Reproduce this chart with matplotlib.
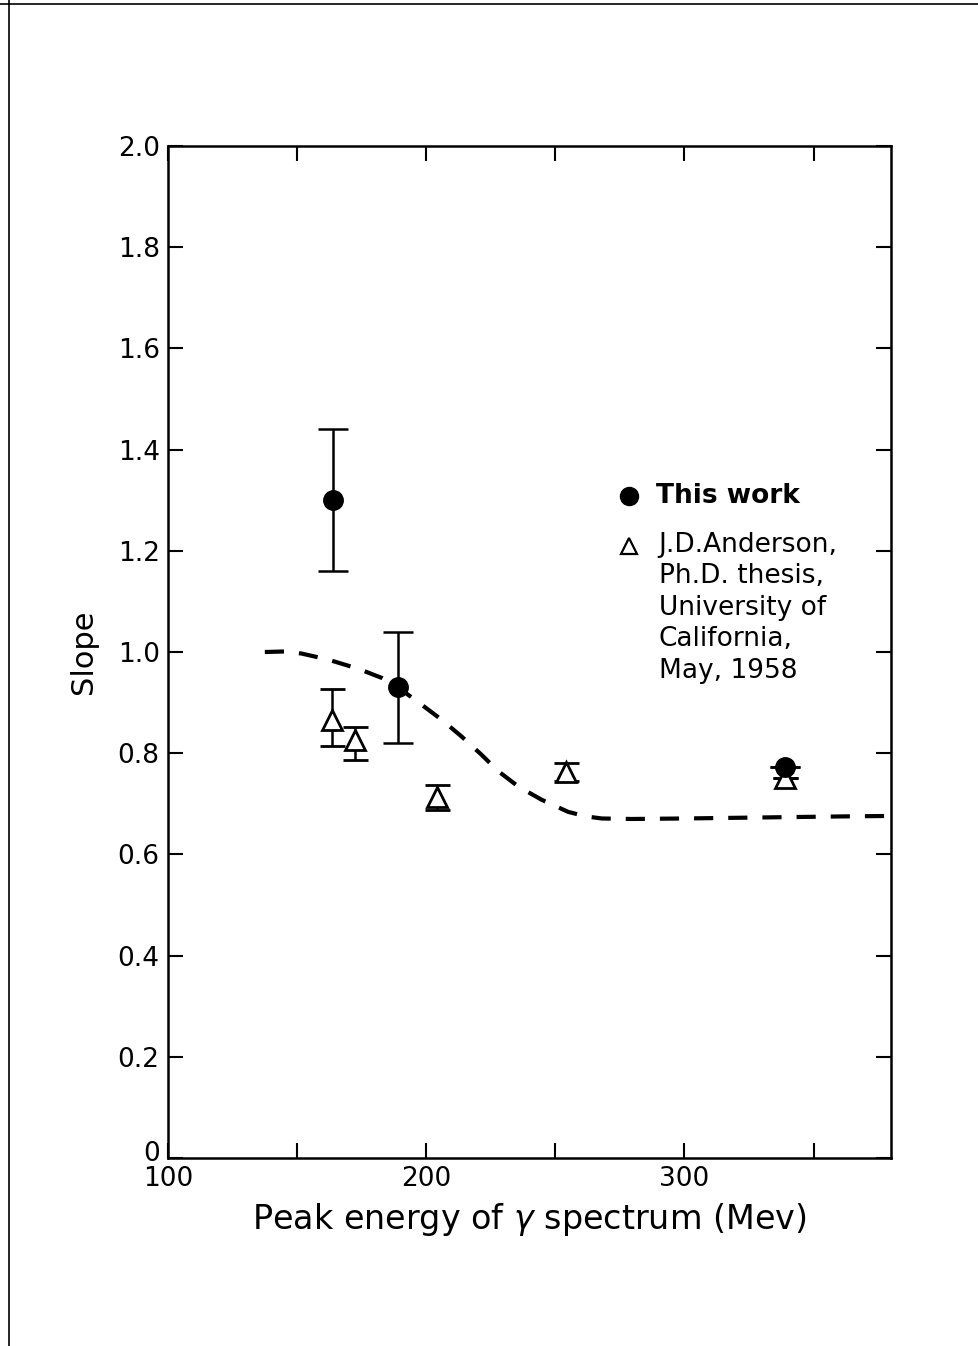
import matplotlib
matplotlib.use("Agg")
import matplotlib.pyplot as plt
from matplotlib.lines import Line2D
from matplotlib.transforms import ScaledTranslation

# ---- data ----
work_x = [164, 189, 339]
work_y = [1.30, 0.93, 0.773]
work_err_lo = [0.14, 0.11, 0.0]
work_err_hi = [0.14, 0.11, 0.0]

and_x = [163.5, 172.5, 204, 254, 339]
and_y = [0.866, 0.827, 0.714, 0.763, 0.751]
and_err_lo = [0.051, 0.040, 0.026, 0.018, 0.0]
and_err_hi = [0.060, 0.025, 0.023, 0.018, 0.0]

curve_x = [137.5, 145, 151.7, 162, 173.6, 182.7, 189.1, 198.2, 206, 213.7, 221.4, 228,
           235.7, 244.7, 255, 262, 268, 279.6, 300, 330, 360, 380]
curve_y = [1.000, 1.001, 0.997, 0.985, 0.967, 0.949, 0.930, 0.896, 0.866, 0.833, 0.797, 0.764,
           0.734, 0.708, 0.684, 0.675, 0.671, 0.670, 0.671, 0.673, 0.675, 0.676]

xticks_major = [100, 150, 200, 250, 300, 350]
xtick_labels = ["100", "", "200", "", "300", ""]
yticks = [0, 0.2, 0.4, 0.6, 0.8, 1.0, 1.2, 1.4, 1.6, 1.8, 2.0]
ytick_labels = ["0", "0.2", "0.4", "0.6", "0.8", "1.0", "1.2", "1.4", "1.6", "1.8", "2.0"]

plt.rcParams['font.family'] = ['DejaVu Sans']

W, H = 979, 1346
fig = plt.figure(figsize=(W / 100, H / 100), dpi=100)
fig.patch.set_facecolor("white")

left_px, right_px, bottom_px, top_px = 168, 891, 1158, 146
ax = fig.add_axes([left_px / W, 1 - bottom_px / H, (right_px - left_px) / W, (bottom_px - top_px) / H])

ax.set_xlim(100, 380)
ax.set_ylim(0, 2.0)

for s in ax.spines.values():
    s.set_linewidth(1.8)
    s.set_color("black")

ax.set_xticks(xticks_major)
ax.set_xticklabels(xtick_labels)
ax.set_yticks(yticks)
ax.set_yticklabels(ytick_labels)
ax.tick_params(axis="both", which="both", direction="in", length=11, width=1.5,
               top=True, right=True, labelsize=19, pad=6, colors="black")

# lift the "0" label a little, as in the reference
zero_lab = ax.get_yticklabels()[0]
zero_lab.set_transform(zero_lab.get_transform() + ScaledTranslation(0, 5 / 72, fig.dpi_scale_trans))

# dashed curve
ax.plot(curve_x, curve_y, color="black", lw=3, dashes=(4.6, 3.6), dash_capstyle="butt", zorder=2)

# Anderson triangles
ax.errorbar(and_x, and_y, yerr=[and_err_lo, and_err_hi], fmt="^", ms=14, mfc="white",
            mec="black", mew=2, ecolor="black", elinewidth=1.8, capsize=9, capthick=1.8, zorder=3)

# This work circles
ax.errorbar(work_x, work_y, yerr=[work_err_lo, work_err_hi], fmt="o", ms=14, mfc="black",
            mec="black", ecolor="black", elinewidth=1.8, capsize=11, capthick=1.8, zorder=4)

# legend (manual)
ax.plot([278.5], [1.308], marker="o", ms=13, color="black", clip_on=False)
ax.text(289, 1.308, "This work", fontsize=19, fontweight="bold", va="center", ha="left")
ax.plot([278.5], [1.21], marker="^", ms=11, mfc="white", mec="black", mew=1.6, clip_on=False)
ax.text(290, 1.237, "J.D.Anderson,\nPh.D. thesis,\nUniversity of\nCalifornia,\nMay, 1958",
        fontsize=19, va="top", ha="left", linespacing=1.27)

ax.set_xlabel("Peak energy of $\\gamma$ spectrum (Mev)", fontsize=24, labelpad=6)
ax.set_ylabel("Slope", fontsize=22, labelpad=14)

# scan page borders
fig.add_artist(Line2D([9 / W, 9 / W], [0, 1], transform=fig.transFigure, color="black", lw=1.2))
fig.add_artist(Line2D([0, 1], [1 - 4 / H, 1 - 4 / H], transform=fig.transFigure, color="black", lw=1.2))

fig.savefig("out.png", dpi=100, facecolor="white")
